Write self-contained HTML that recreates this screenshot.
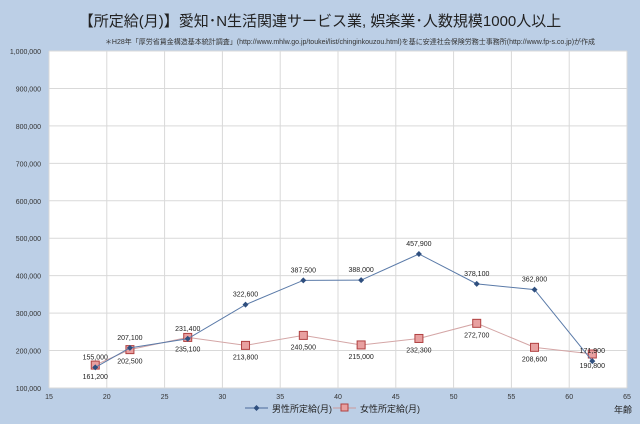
<!DOCTYPE html>
<html><head><meta charset="utf-8"><style>
body{margin:0;background:#bccfe6;}
#wrap{width:640px;height:419px;position:relative;background:#bccfe6;font-family:"Liberation Sans","Noto Sans CJK JP",sans-serif;}
</style></head><body>
<div id="wrap">
<svg id="svg" width="640" height="419" xmlns="http://www.w3.org/2000/svg">
<text x="320" y="26" text-anchor="middle" font-size="15" fill="#222" font-family="Liberation Sans,Noto Sans CJK JP,sans-serif">【所定給(月)】愛知･N生活関連サービス業, 娯楽業･人数規模1000人以上</text>
<text x="350" y="44" text-anchor="middle" font-size="7" fill="#333" font-family="Liberation Sans,Noto Sans CJK JP,sans-serif">＊H28年「厚労省賃金構造基本統計調査」(http://www.mhlw.go.jp/toukei/list/chinginkouzou.html)を基に安達社会保険労務士事務所(http://www.fp-s.co.jp)が作成</text>
<rect x="49" y="51" width="578" height="337" fill="#fff"/>
<g id="grid"></g><g id="series"></g>
<g>
<line x1="245" y1="408" x2="268" y2="408" stroke="#4a6a9a"/>
<path d="M256.5 405 L259.5 408 L256.5 411 L253.5 408Z" fill="#2f4f7f"/>
<text x="272" y="412" font-size="9" fill="#222">男性所定給(月)</text>
<line x1="333" y1="408" x2="356" y2="408" stroke="#c99"/>
<rect x="341" y="404" width="7" height="7" fill="#e8a0a0" stroke="#b04040"/>
<text x="360" y="412" font-size="9" fill="#222">女性所定給(月)</text>
</g>
<text x="614" y="413" font-size="9" fill="#222">年齢</text>
</svg></div>
<script>
const ages=[19,22,27,32,37,42,47,52,57,62];
const male=[155000,207100,231400,322600,387500,388000,457900,378100,362800,171900];
const female=[161200,202500,235100,213800,240500,215000,232300,272700,208600,190800];
const xTicks=[15,20,25,30,35,40,45,50,55,60,65];
const yTicks=[100000,200000,300000,400000,500000,600000,700000,800000,900000,1000000];
const NS="http://www.w3.org/2000/svg";
const X=v=>49+(v-15)/50*578;
const Y=v=>388-(v-100000)/900000*337;
const fmt=v=>v.toLocaleString('en-US');
function mk(tag,attrs,parent){const e=document.createElementNS(NS,tag);for(const k in attrs)e.setAttribute(k,attrs[k]);parent.appendChild(e);return e;}
const g=document.getElementById('grid'),s=document.getElementById('series');
yTicks.forEach(v=>{
 const l=mk('line',{x1:49,x2:627,y1:Y(v),y2:Y(v),stroke:'#d9d9d9'},g);
 
 
 const t=mk('text',{x:41,y:Y(v)+3,'text-anchor':'end','font-size':7,fill:'#333'},g);t.textContent=fmt(v);
 
 
});
xTicks.forEach(v=>{
 const l=mk('line',{x1:X(v),x2:X(v),y1:51,y2:388,stroke:'#d9d9d9'},g);
 
 
 const t=mk('text',{x:X(v),y:399,'text-anchor':'middle','font-size':7,fill:'#333'},g);t.textContent=v;
 
 
});
function draw(vals,color,name,isMale){
 const pl=mk('polyline',{points:ages.map((a,i)=>X(a)+','+Y(vals[i])).join(' '),fill:'none',stroke:color,'stroke-width':1},s);
 
 
 ages.forEach((a,i)=>{
  const x=X(a),y=Y(vals[i]);let m;
  if(isMale){m=mk('path',{d:`M${x} ${y-3}L${x+3} ${y}L${x} ${y+3}L${x-3} ${y}Z`,fill:'#2f4f7f'},s);}
  else{m=mk('rect',{x:x-4,y:y-4,width:8,height:8,fill:'#e8a0a0',stroke:'#b04040'},s);}
  
  
  const t=mk('text',{x:x,y:isMale?y-8:y+14,'text-anchor':'middle','font-size':7,fill:'#222'},s);t.textContent=fmt(vals[i]);
  
  
 });
}
draw(female,'#d4a6a6','female',false);
draw(male,'#5a7aa8','male',true);
</script>
</body></html>
